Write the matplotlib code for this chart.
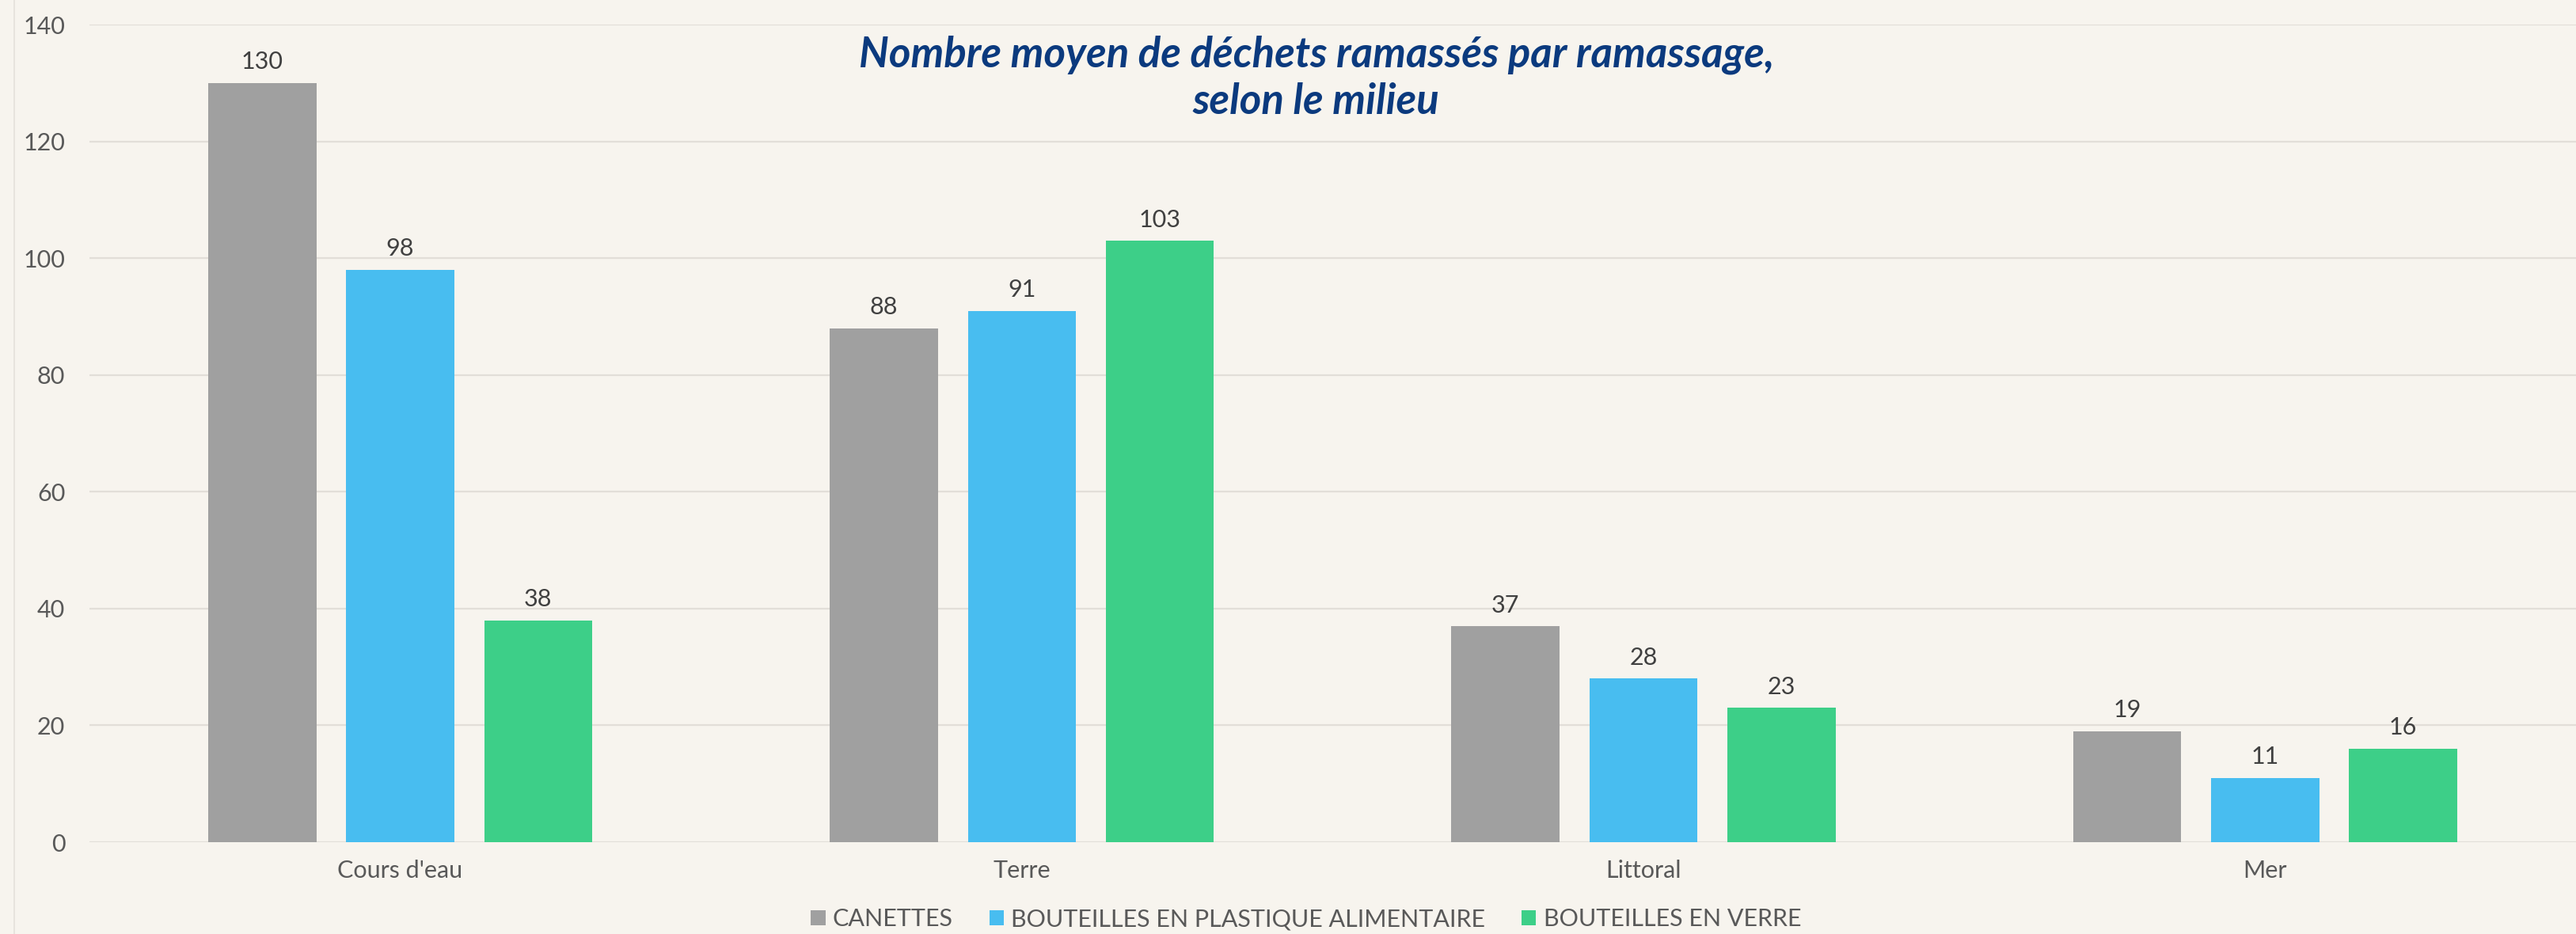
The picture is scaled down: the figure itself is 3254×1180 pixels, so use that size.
import matplotlib.pyplot as plt
import numpy as np
from matplotlib.lines import Line2D

# average litter counts per pick-up, by environment
milieux = ["Cours d'eau", "Terre", "Littoral", "Mer"]
canettes = [130, 88, 37, 19]
plastique = [98, 91, 28, 11]
verre = [38, 103, 23, 16]
series_names = ["CANETTES", "BOUTEILLES EN PLASTIQUE ALIMENTAIRE", "BOUTEILLES EN VERRE"]
yticks = [0, 20, 40, 60, 80, 100, 120, 140]

colors = ["#A0A0A0", "#48BDF0", "#3DCF88"]
bg = "#F7F4EE"
text_col = "#595959"

plt.rcParams['font.family'] = ['Lato', 'DejaVu Sans']

fig = plt.figure(figsize=(32.54, 11.8), dpi=100, facecolor=bg)
ax = fig.add_axes([0.0347, 0.0983, 0.9653, 0.8754])
ax.set_facecolor(bg)

x = np.arange(len(milieux))
width = 0.174
step = 0.222
for i, (vals, name) in enumerate(zip([canettes, plastique, verre], series_names)):
    pos = x + (i - 1) * step
    bars = ax.bar(pos, vals, width, color=colors[i], label=name, zorder=3)
    for b, v in zip(bars, vals):
        ax.annotate(str(v), (b.get_x() + b.get_width() / 2, v),
                    xytext=(0, 9), textcoords="offset points",
                    ha="center", va="bottom", fontsize=22, color="#404040")

ax.set_xlim(-0.5, len(milieux) - 0.5)
ax.set_ylim(0, 140)
ax.set_yticks(yticks)
ax.set_xticks(x)
ax.set_xticklabels(milieux)
ax.tick_params(axis="y", length=0, pad=22, labelsize=22, labelcolor=text_col)
ax.tick_params(axis="x", length=0, pad=16, labelsize=22, labelcolor=text_col)
ax.grid(axis="y", color="#E2DED8", linewidth=1.6, zorder=0)
for s in ax.spines.values():
    s.set_visible(False)

fig.text(0.511, 0.962, "Nombre moyen de déchets ramassés par ramassage,\nselon le milieu",
         ha="center", va="top", fontsize=38, fontweight="bold", fontstyle="italic",
         color="#0B3A7E", linespacing=1.25)

fig.legend(loc="center", bbox_to_anchor=(0.507, 0.016), ncol=3, frameon=False,
           fontsize=22, labelcolor=text_col, handlelength=0.6, handleheight=0.6,
           handletextpad=0.3, columnspacing=1.5)

# thin frame line on the left edge
fig.add_artist(Line2D([0.0055, 0.0055], [0, 1], transform=fig.transFigure,
                      color="#E4E0DA", linewidth=1.2))

fig.savefig("out.png", dpi=100, facecolor=bg)
